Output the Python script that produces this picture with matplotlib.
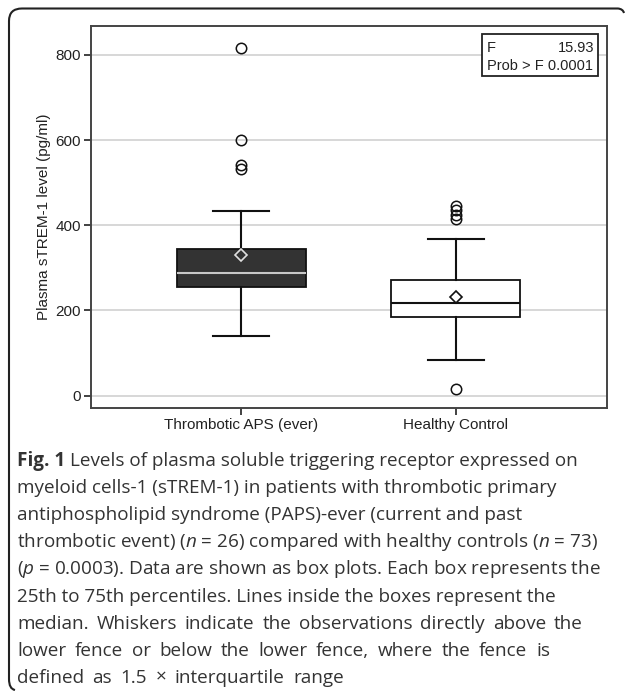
import matplotlib
matplotlib.use("Agg")
import matplotlib.pyplot as plt
from matplotlib.path import Path
from matplotlib.patches import PathPatch, Rectangle

# data
groups = ["Thrombotic APS (ever)", "Healthy Control"]
q1 = [254, 185]
medians = [289, 217]
q3 = [344, 272]
whisk_lo = [141, 84]
whisk_hi = [433, 368]
means = [331, 232]
outliers = [[817, 600, 541, 533], [446, 436, 425, 415, 15]]
yticks = [0, 200, 400, 600, 800]

caption_lead = "Fig. 1"
caption = [
    "Levels of plasma soluble triggering receptor expressed on",
    "myeloid cells-1 (sTREM-1) in patients with thrombotic primary",
    "antiphospholipid syndrome (PAPS)-ever (current and past",
    r"thrombotic event) ($\mathit{n}$ = 26) compared with healthy controls ($\mathit{n}$ = 73)",
    r"($\mathit{p}$ = 0.0003). Data are shown as box plots. Each box represents the",
    "25th to 75th percentiles. Lines inside the boxes represent the",
    "median. Whiskers indicate the observations directly above the",
    "lower fence or below the lower fence, where the fence is",
    "defined as 1.5 \u00d7 interquartile range",
]
# right edge (px) of the lines that are spread out in the original, None = natural spacing
spread_to = [None, None, None, None, None, None, 583, 550, 344]

plt.rcParams['font.family'] = ['Liberation Sans', 'DejaVu Sans']
plt.rcParams['mathtext.fontset'] = 'custom'
plt.rcParams['mathtext.rm'] = 'Open Sans'
plt.rcParams['mathtext.it'] = 'Open Sans:italic'
plt.rcParams['mathtext.bf'] = 'Open Sans:bold'

W, H = 627, 691
fig = plt.figure(figsize=(W / 100, H / 100), dpi=100)
ax = fig.add_axes([90.5 / W, 1 - 408 / H, 516 / W, 382 / H])

def px(x, y):
    return (x / W, 1 - y / H)

# boxes
styles = [
    dict(face="#333333", med="#c8c8c8", mface="#333333", medge="#e0e0e0"),
    dict(face="white", med="#111111", mface="white", medge="#111111"),
]
for i in range(len(groups)):
    st = styles[i]
    stats = [dict(med=medians[i], q1=q1[i], q3=q3[i], whislo=whisk_lo[i],
                  whishi=whisk_hi[i], mean=means[i], fliers=outliers[i])]
    ax.bxp(stats, positions=[i + 1], widths=0.6, capwidths=0.26,
           showmeans=True, patch_artist=True,
           boxprops=dict(facecolor=st["face"], edgecolor="#111111", linewidth=1.3),
           medianprops=dict(color=st["med"], linewidth=1.5),
           whiskerprops=dict(color="#111111", linewidth=1.5),
           capprops=dict(color="#111111", linewidth=1.5),
           meanprops=dict(marker="D", markersize=6, markerfacecolor=st["mface"],
                          markeredgecolor=st["medge"], markeredgewidth=1.2),
           flierprops=dict(marker="o", markersize=7.5, markerfacecolor="none",
                           markeredgecolor="#111111", markeredgewidth=1.1),
           zorder=3)

ax.set_xlim(0.3, 2.7)
ax.set_ylim(-29, 868)
ax.set_yticks(yticks)
ax.set_xticks([1, 2])
ax.set_xticklabels(groups)
ax.yaxis.grid(True, color="#d4d4d4", linewidth=1.3)
ax.set_axisbelow(True)
for s in ax.spines.values():
    s.set_color("#444444")
    s.set_linewidth(1.4)
ax.tick_params(axis="both", length=5, width=1.3, color="#333333",
               labelsize=11, labelcolor="#222222", pad=2)
ax.set_ylabel("Plasma sTREM-1 level (pg/ml)", fontsize=11, color="#222222", labelpad=3)

# F statistic inset
ax.add_patch(Rectangle(px(481.5, 76), 116 / W, 42 / H, transform=fig.transFigure,
                       facecolor="white", edgecolor="#222222", linewidth=1.3, zorder=5))
fig.text(487 / W, 1 - 47.5 / H, "F", fontsize=10.5, va="center", ha="left", color="#222222", zorder=6)
fig.text(594 / W, 1 - 47.5 / H, "15.93", fontsize=10.5, va="center", ha="right", color="#222222", zorder=6)
fig.text(487 / W, 1 - 65.5 / H, "Prob > F 0.0001", fontsize=10.5, va="center", ha="left",
         color="#222222", zorder=6)

# caption
renderer = fig.canvas.get_renderer()
cap_kw = dict(fontsize=13.6, family="Open Sans", color="#333333", va="baseline", ha="left")

def width_of(t):
    return t.get_window_extent(renderer).width

probe = fig.text(0, 0, "x x", **cap_kw)
probe2 = fig.text(0, 0, "xx", **cap_kw)
space_w = width_of(probe) - width_of(probe2)
probe.remove()
probe2.remove()

x0 = 17
for k, line in enumerate(caption):
    yb = 1 - (466 + 27.1 * k) / H
    x = x0
    if k == 0:
        lead = fig.text(x / W, yb, caption_lead, fontweight="bold", **cap_kw)
        x += width_of(lead) + space_w
    if spread_to[k] is None:
        fig.text(x / W, yb, line, **cap_kw)
        continue
    words = line.split(" ")
    texts = [fig.text(0, yb, w, **cap_kw) for w in words]
    widths = [width_of(t) for t in texts]
    gap = (spread_to[k] - x - sum(widths)) / (len(words) - 1)
    for t, w in zip(texts, widths):
        t.set_x(x / W)
        x += w + gap

# outer frame (top + left edge with rounded corners)
verts = [px(624, 13), px(623, 9), px(618, 8.5), px(22, 8.5), px(9, 8.5), px(9, 21),
         px(9, 679), px(9, 689), px(15, 690)]
codes = [Path.MOVETO, Path.CURVE3, Path.CURVE3, Path.LINETO, Path.CURVE3, Path.CURVE3,
         Path.LINETO, Path.CURVE3, Path.CURVE3]
fig.patches.append(PathPatch(Path(verts, codes), transform=fig.transFigure,
                             facecolor="none", edgecolor="#222222", linewidth=1.5))

fig.savefig("out.png", dpi=100)
